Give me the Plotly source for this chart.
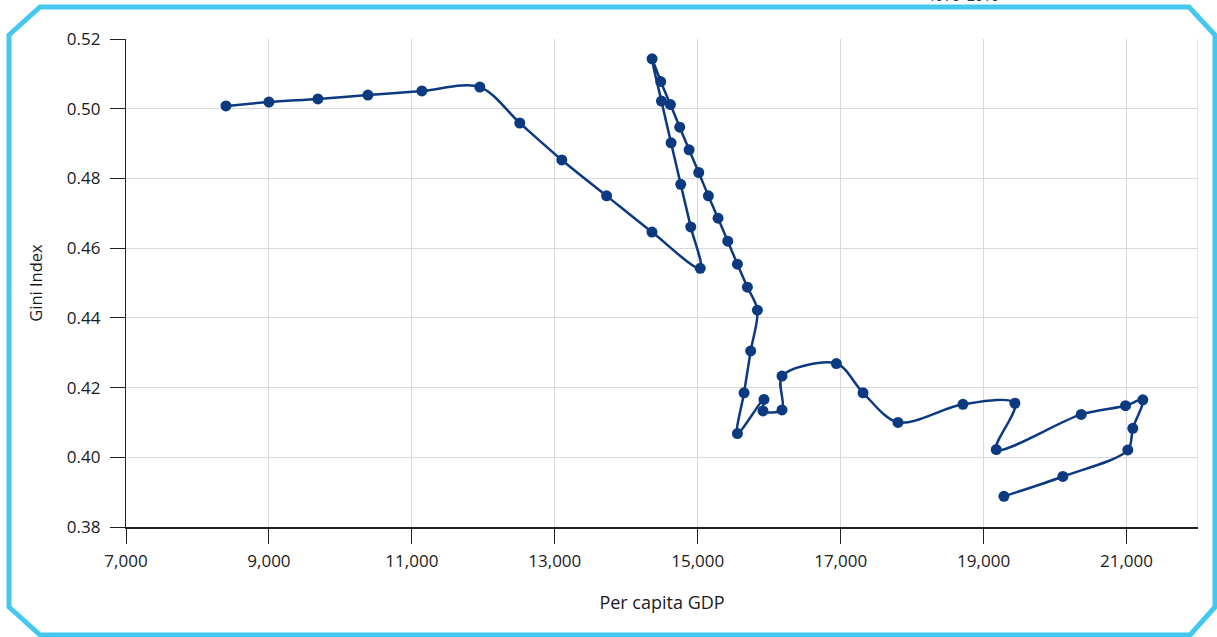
import plotly.graph_objects as go

# Per capita GDP and Gini index, 1970-2010 path
gdp = [8399, 9000, 9685, 10385, 11140, 11951, 12510, 13098, 13725, 14360,
       15035, 14902, 14762, 14627, 14492, 14361, 14482, 14618, 14748, 14879,
       15014, 15149, 15284, 15420, 15555, 15695, 15835, 15741, 15648, 15555,
       15927, 15913, 16179, 16179, 16940, 17313, 17802, 18711, 19438, 19177,
       20366, 20986, 21228, 21088, 21018, 20109, 19284]
gini = [0.5008, 0.5019, 0.5028, 0.5039, 0.5051, 0.5062, 0.4959, 0.4853, 0.4750, 0.4646,
        0.4542, 0.4661, 0.4783, 0.4902, 0.5022, 0.5143, 0.5078, 0.5012, 0.4947, 0.4882,
        0.4817, 0.4750, 0.4686, 0.4620, 0.4554, 0.4488, 0.4422, 0.4305, 0.4185, 0.4068,
        0.4166, 0.4133, 0.4136, 0.4233, 0.4269, 0.4185, 0.4100, 0.4152, 0.4155, 0.4022,
        0.4123, 0.4148, 0.4165, 0.4083, 0.4021, 0.3945, 0.3888]

x_ticks = [7000, 9000, 11000, 13000, 15000, 17000, 19000, 21000]
y_ticks = [0.38, 0.40, 0.42, 0.44, 0.46, 0.48, 0.50, 0.52]

W, H = 1217, 637
L, R, T, B = 126, 19, 39, 110
pw, ph = W - L - R, H - T - B

def px(xp):
    return (xp - L) / pw

def py(yp):
    return (H - B - yp) / ph

NAVY = "#0B3A80"
FONT = "Open Sans"

fig = go.Figure()
fig.add_trace(go.Scatter(
    x=gdp, y=gini, mode="lines+markers",
    line=dict(color=NAVY, width=2.5, shape="spline", smoothing=0.9),
    marker=dict(color=NAVY, size=11),
    showlegend=False,
))

# octagonal frame
pts = [(40, 7), (1189, 7), (1215, 35), (1215, 607), (1190, 635), (40, 635), (9, 607), (9, 35)]
path = "M " + " L ".join(f"{px(a):.5f},{py(b):.5f}" for a, b in pts) + " Z"
fig.add_shape(type="path", path=path, xref="paper", yref="paper",
              line=dict(color="#45C8F0", width=5), layer="below")
# right-edge grid line
fig.add_shape(type="line", x0=22000, x1=22000, y0=0.38, y1=0.52, xref="x", yref="y",
              line=dict(color="#D9D9D9", width=1.3), layer="below")

fig.add_annotation(text="1970–2010", xref="paper", yref="paper",
                   x=px(963), y=py(-4), xanchor="center", yanchor="middle", showarrow=False,
                   font=dict(family=FONT, size=14, color="#333333"))

fig.update_layout(
    width=W, height=H,
    margin=dict(l=L, r=R, t=T, b=B),
    paper_bgcolor="white", plot_bgcolor="white",
    font=dict(family=FONT, size=17, color="#1A1A1A"),
)
fig.update_xaxes(
    range=[7000, 22000], tickvals=x_ticks, ticktext=[f"{v:,}" for v in x_ticks],
    showgrid=True, gridcolor="#D9D9D9", gridwidth=1.3,
    showline=True, linecolor="#222222", linewidth=2,
    ticks="outside", ticklen=15, tickcolor="#222222", tickwidth=1,
    ticklabelstandoff=3,
    title=dict(text="Per capita GDP", standoff=25, font=dict(size=18)),
    zeroline=False,
)
fig.update_yaxes(
    range=[0.38, 0.52], tickvals=y_ticks, ticktext=[f"{v:.2f}" for v in y_ticks],
    showgrid=True, gridcolor="#D9D9D9", gridwidth=1.3,
    showline=True, linecolor="#222222", linewidth=1.3,
    ticks="outside", ticklen=15, tickcolor="#222222", tickwidth=1,
    ticklabelstandoff=6,
    title=dict(text="Gini Index", standoff=20, font=dict(size=16.5)),
    zeroline=False,
)

fig.write_html("out.html", config={"displayModeBar": False},
               post_script="document.body.style.margin='0';")
